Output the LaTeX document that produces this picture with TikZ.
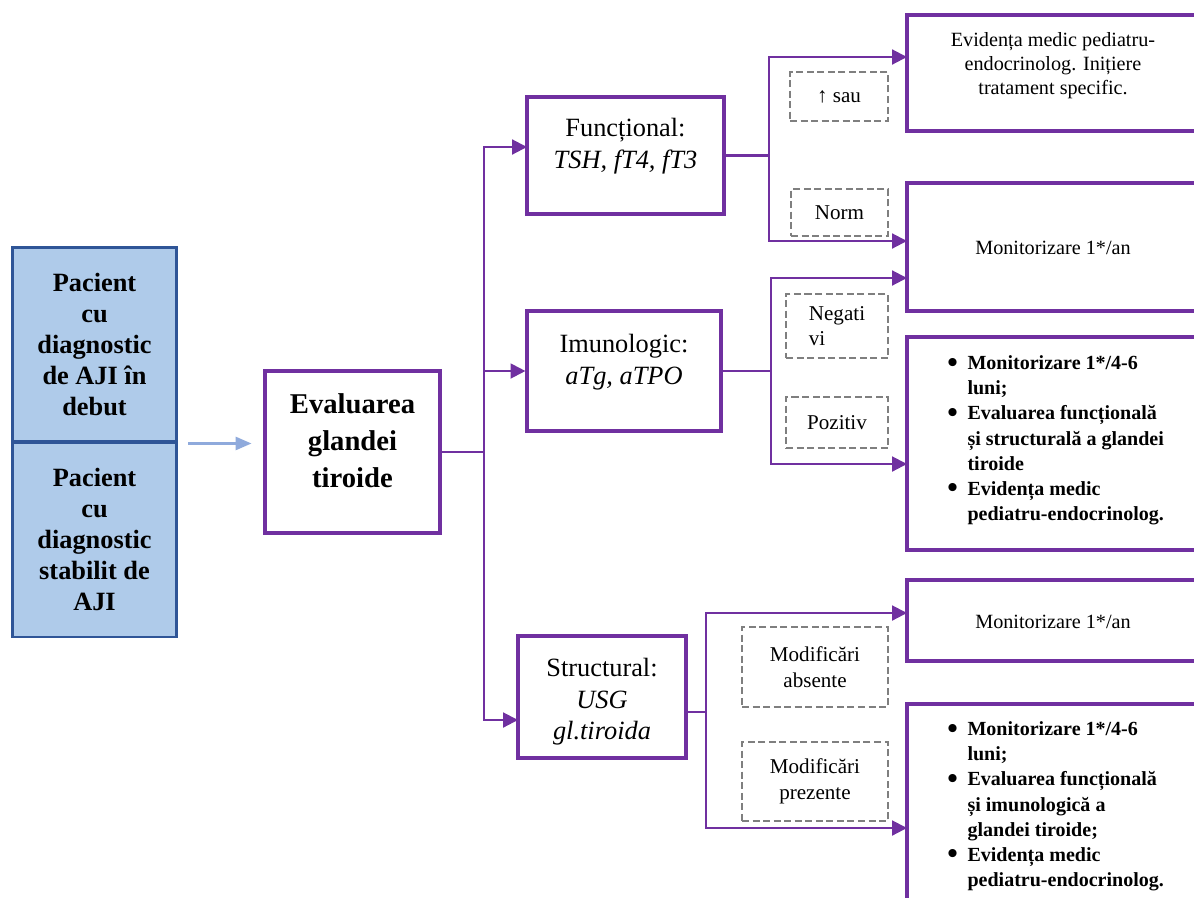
\documentclass[tikz,border=0pt]{standalone}
\usepackage{fontspec}
\setmainfont{Liberation Serif}
\usepackage{tikz}
\usetikzlibrary{arrows.meta,positioning}
\definecolor{plum}{HTML}{7030A0}
\definecolor{patientfill}{HTML}{AFCBEA}
\definecolor{patientedge}{HTML}{2F5597}
\definecolor{entryblue}{HTML}{8FAADC}
\definecolor{taggray}{HTML}{7F7F7F}

\newcommand{\listdot}{\raisebox{-0.12em}{\scalebox{1.5}{\textbullet}}}

\tikzset{
  patient/.style={draw=patientedge, fill=patientfill, line width=1.7pt,
    minimum width=3.3cm, minimum height=3.9cm, inner sep=0pt, align=center,
    font=\fontsize{15}{17.6}\selectfont\bfseries},
  stagebox/.style={draw=plum, line width=1.8pt, inner sep=0pt},
  stagetxt/.style={align=center, inner sep=0pt, font=\fontsize{15}{18}\selectfont},
  outtxt/.style={align=center, inner sep=0pt, font=\fontsize{11.5}{13.7}\selectfont},
  listtxt/.style={anchor=west, inner sep=0pt, font=\fontsize{11.4}{14.3}\selectfont\bfseries},
  tagbox/.style={draw=taggray, dash pattern=on 4pt off 2pt, line width=1.1pt,
    inner sep=0pt, align=center, font=\fontsize{12}{14.5}\selectfont},
  link/.style={draw=plum, line width=1.2pt},
  flow/.style={link, -{Triangle[length=8.5pt, width=8.5pt]}},
  entry/.style={draw=entryblue, line width=1.2pt, -{Triangle[length=9pt, width=7.5pt]}}
}

\begin{document}
\begin{tikzpicture}[x=0.02cm, y=-0.02cm]
\useasboundingbox (0,0) rectangle (1194,897);
\clip (0,0) rectangle (1194,897);

% ---- Patients ----
\node[patient] (debut) at (94.5,344.5) {Pacient\\cu\\diagnostic\\de AJI în\\debut};
\node[patient] (stabil) at (94.5,539.5) {Pacient\\cu\\diagnostic\\stabilit de\\AJI};

% ---- Evaluation ----
\node[stagebox, minimum width=3.5cm, minimum height=3.24cm] (eval) at (352.5,452) {};
\node[stagetxt, font=\fontsize{16.3}{21}\selectfont\bfseries] (evaltxt) at (352.5,441) {Evaluarea\\glandei\\tiroide};

% ---- Three assessments ----
\node[stagebox, minimum width=3.94cm, minimum height=2.34cm] (func) at (625.5,155.5) {};
\node[stagetxt] (functxt) at (625.5,146) {Funcțional:\\\textit{TSH, fT4, fT3}};
\node[stagebox, minimum width=3.88cm, minimum height=2.4cm] (imun) at (624,371) {};
\node[stagetxt] (imuntxt) at (624,362) {Imunologic:\\\textit{aTg, aTPO}};
\node[stagebox, minimum width=3.36cm, minimum height=2.44cm] (struct) at (602,697) {};
\node[stagetxt] (structtxt) at (602,702) {Structural:\\\textit{USG}\\\textit{gl.tiroida}};

% ---- Outcomes ----
\node[stagebox, minimum width=5.86cm, minimum height=2.32cm] (res1) at (1053.5,73) {};
\node[outtxt] (res1txt) at (1053,66) {Evidența medic pediatru-\\endocrinolog. Inițiere\\tratament specific.};
\node[stagebox, minimum width=5.86cm, minimum height=2.56cm] (res2) at (1053.5,247) {};
\node[outtxt] (res2txt) at (1053,248) {Monitorizare 1*/an};
\node[stagebox, minimum width=5.86cm, minimum height=4.26cm] (res3) at (1053.5,443.5) {};
\node[listtxt] (res3txt) at (947,440) {\begin{tabular}{@{}c@{\hspace{5.5pt}}l@{}}
\listdot & Monitorizare 1*/4-6\\
 & luni;\\
\listdot & Evaluarea funcțională\\
 & și structurală a glandei\\
 & tiroide\\
\listdot & Evidența medic\\
 & pediatru-endocrinolog.
\end{tabular}};
\node[stagebox, minimum width=5.86cm, minimum height=1.62cm] (res4) at (1053.5,620.5) {};
\node[outtxt] (res4txt) at (1053,622) {Monitorizare 1*/an};
\node[stagebox, minimum width=5.86cm, minimum height=4.42cm] (res5) at (1053.5,814.5) {};
\node[listtxt] (res5txt) at (947,806) {\begin{tabular}{@{}c@{\hspace{5.5pt}}l@{}}
\listdot & Monitorizare 1*/4-6\\
 & luni;\\
\listdot & Evaluarea funcțională\\
 & și imunologică a\\
 & glandei tiroide;\\
\listdot & Evidența medic\\
 & pediatru-endocrinolog.
\end{tabular}};

% ---- Result tags ----
\node[tagbox, minimum width=1.96cm, minimum height=0.98cm] (up) at (839,96.5) {↑ sau};
\node[tagbox, minimum width=1.94cm, minimum height=0.94cm] (norm) at (839.5,212.5) {Norm};
\node[tagbox, minimum width=2.04cm, minimum height=1.28cm, align=left] (neg) at (837,326) {Negati\\vi};
\node[tagbox, minimum width=2.04cm, minimum height=1.02cm] (poz) at (837,422.5) {Pozitiv};
\node[tagbox, minimum width=2.92cm, minimum height=1.6cm] (absent) at (815,667) {Modificări\\absente};
\node[tagbox, minimum width=2.92cm, minimum height=1.58cm] (present) at (815,781.5) {Modificări\\prezente};

% ---- Connectors ----
\draw[entry, shorten <=0.2cm, shorten >=0.24cm] (debut.south east) -- (eval.west |- debut.south east);

\coordinate (trunk) at (484,452);
\coordinate (inFunc) at (527,147);
\coordinate (inStruct) at (518,720);
\draw[link] (eval.east) -- (trunk);
\draw[flow] (trunk) |- (inFunc);
\draw[flow] (trunk) |- (imun.west);
\draw[flow] (trunk) |- (inStruct);

% functional branch
\draw[link] (func.east) -- ++(43,0) coordinate (fsplit);
\coordinate (inRes1) at (907,57);
\coordinate (inRes2a) at (907,241);
\draw[flow] (fsplit) |- (inRes1);
\draw[flow] (fsplit) |- (inRes2a);

% immunological branch
\draw[link] (imun.east) -- ++(48,0) coordinate (isplit);
\coordinate (inRes2b) at (907,278);
\coordinate (inRes3) at (907,464);
\draw[flow] (isplit) |- (inRes2b);
\draw[flow] (isplit) |- (inRes3);

% structural branch
\coordinate (ssplit) at (706,712);
\draw[link] (struct.east |- ssplit) -- (ssplit);
\coordinate (inRes4) at (907,613);
\coordinate (inRes5) at (907,828);
\draw[flow] (ssplit) |- (inRes4);
\draw[flow] (ssplit) |- (inRes5);

\end{tikzpicture}
\end{document}
